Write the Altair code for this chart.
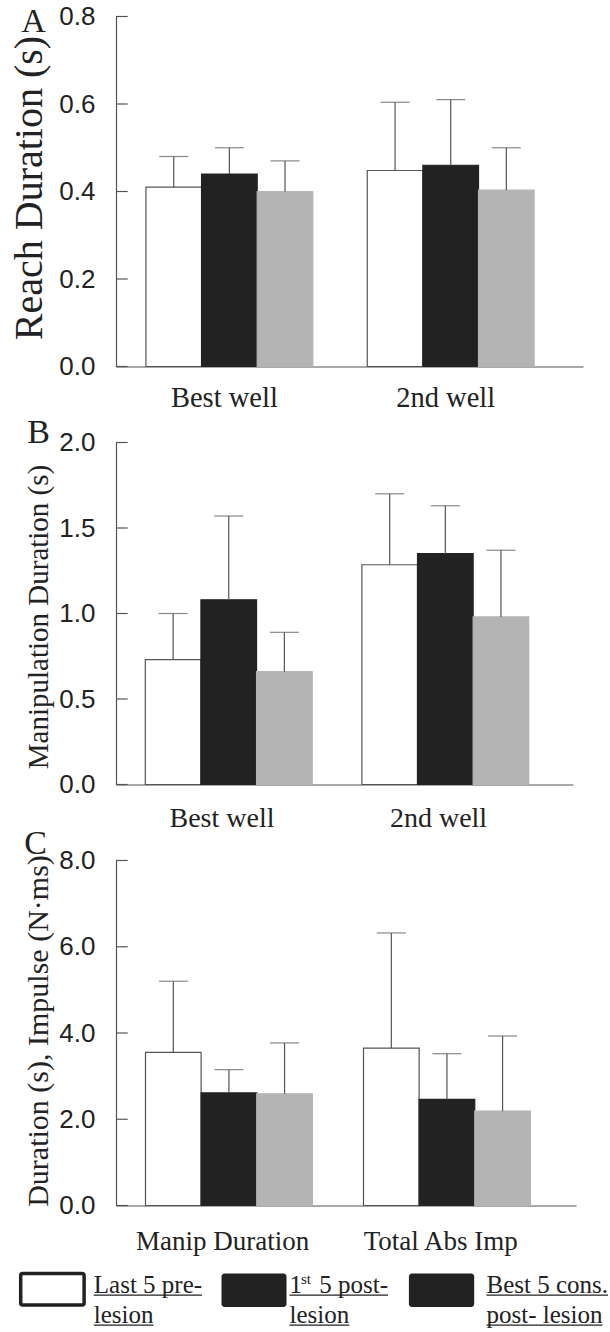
import re
import altair as alt
import pandas as pd

# ---------------- data ----------------
SERIES = ["Last 5 pre-lesion", "1st 5 post-lesion", "Best 5 cons. post-lesion"]
SERIES_FILL = ["#ffffff", "#222222", "#b4b4b4"]
SERIES_STROKE = ["#555555", "#222222", "#b4b4b4"]

# Panel A: reach duration (s)
A_GROUPS = ["Best well", "2nd well"]
A_MEAN_PRE = [0.41, 0.448]
A_MEAN_POST1 = [0.44, 0.46]
A_MEAN_BEST = [0.40, 0.403]
A_TOP_PRE = [0.48, 0.604]
A_TOP_POST1 = [0.50, 0.61]
A_TOP_BEST = [0.47, 0.50]
A_TICKS = [0.0, 0.2, 0.4, 0.6, 0.8]

# Panel B: manipulation duration (s)
B_GROUPS = ["Best well", "2nd well"]
B_MEAN_PRE = [0.73, 1.285]
B_MEAN_POST1 = [1.08, 1.35]
B_MEAN_BEST = [0.66, 0.98]
B_TOP_PRE = [1.00, 1.70]
B_TOP_POST1 = [1.57, 1.63]
B_TOP_BEST = [0.89, 1.37]
B_TICKS = [0.0, 0.5, 1.0, 1.5, 2.0]

# Panel C: duration (s), impulse (N·ms)
C_GROUPS = ["Manip Duration", "Total Abs Imp"]
C_MEAN_PRE = [3.55, 3.65]
C_MEAN_POST1 = [2.61, 2.46]
C_MEAN_BEST = [2.59, 2.19]
C_TOP_PRE = [5.20, 6.32]
C_TOP_POST1 = [3.15, 3.52]
C_TOP_BEST = [3.77, 3.93]
C_TICKS = [0.0, 2.0, 4.0, 6.0, 8.0]

LEGEND_TEXT = [("Last 5 pre-", "lesion"), ("1st 5 post-", "lesion"), ("Best 5 cons.", "post- lesion")]
LEGEND_SWATCH = ["#ffffff", "#222222", "#222222"]

# ---------------- style ----------------
INK = "#222222"
AXIS = "#555555"
SERIF = "Liberation Serif, Times New Roman, serif"
SANS = "Liberation Sans, Arial, sans-serif"

TIMES_W = {" ": 250, "-": 333, ".": 250, "1": 500, "5": 500, "B": 667, "L": 611,
           "a": 444, "c": 444, "e": 444, "i": 278, "l": 278, "n": 500, "o": 500,
           "p": 500, "r": 333, "s": 389, "t": 278}


def tw(s, size):
    return sum(TIMES_W.get(ch, 500) for ch in s) * size / 1000.0


def panel_df(groups, means, tops):
    rows = []
    for gi, g in enumerate(groups):
        for si, s in enumerate(SERIES):
            rows.append({"group": g, "series": s, "mean": means[si][gi], "top": tops[si][gi]})
    return pd.DataFrame(rows)


def panel(groups, means, tops, ymax, yticks, title, cfg):
    df = panel_df(groups, means, tops)
    w, h = cfg["w"], cfg["h"]
    xscale = alt.Scale(domain=groups, paddingInner=0.246, paddingOuter=0.178, align=0.38)
    yscale = alt.Scale(domain=[0, ymax], nice=False, zero=True)
    xoff = alt.XOffset("series:N", sort=SERIES,
                       scale=alt.Scale(domain=SERIES, paddingInner=0, paddingOuter=0))
    x_axis = alt.Axis(title=None, ticks=False, tickSize=0, labelAngle=0, labelFont=SERIF,
                      labelFontSize=cfg["xlab_size"], labelColor=INK,
                      labelPadding=cfg["xlab_pad"], labelOffset=-5, domainColor=AXIS,
                      domainWidth=1.2)
    y_axis = alt.Axis(values=yticks, format=".1f", title=title, ticks=False, tickSize=0,
                      labelPadding=21, labelFont=SANS, labelFontSize=26, labelColor=INK,
                      labelOverlap=False, domainColor=AXIS, domainWidth=1.2,
                      titleFont=SERIF, titleFontSize=cfg["title_size"], titleFontWeight="normal",
                      titleColor=INK, titleAngle=270, titleAlign="center",
                      titleBaseline="alphabetic", titleX=cfg["title_x"], titleY=cfg["title_y"])
    xenc = alt.X("group:N", scale=xscale, sort=groups, axis=x_axis)
    base = alt.Chart(df)
    bars = base.mark_bar(strokeWidth=1.2).encode(
        x=xenc,
        xOffset=xoff,
        y=alt.Y("mean:Q", scale=yscale, axis=y_axis),
        fill=alt.Fill("series:N", scale=alt.Scale(domain=SERIES, range=SERIES_FILL), legend=None),
        stroke=alt.Stroke("series:N", scale=alt.Scale(domain=SERIES, range=SERIES_STROKE), legend=None),
    )
    err = base.mark_rule(color=AXIS, strokeWidth=1.2).encode(
        x=xenc,
        xOffset=xoff,
        y=alt.Y("mean:Q", scale=yscale, axis=y_axis),
        y2="top:Q",
    )
    caps = base.mark_tick(color=AXIS, thickness=1.2, size=29).encode(
        x=xenc,
        xOffset=xoff,
        y=alt.Y("top:Q", scale=yscale, axis=y_axis),
    )
    inticks = alt.Chart(pd.DataFrame({"v": yticks})).mark_rule(color=AXIS, strokeWidth=1.2).encode(
        y=alt.Y("v:Q", scale=yscale, axis=y_axis),
        x=alt.value(0),
        x2=alt.value(11.7),
    )
    letter = alt.Chart(pd.DataFrame({"t": [cfg["letter"]]})).mark_text(
        font=SERIF, fontSize=34, color=INK, align="center", baseline="middle"
    ).encode(x=alt.value(cfg["lx"]), y=alt.value(cfg["ly"]), text="t:N")
    return alt.layer(bars, err, caps, inticks, letter).properties(width=w, height=h)


pA = panel(A_GROUPS, [A_MEAN_PRE, A_MEAN_POST1, A_MEAN_BEST], [A_TOP_PRE, A_TOP_POST1, A_TOP_BEST],
           0.8, A_TICKS, "Reach Duration (s)",
           dict(w=467, h=350, title_size=40, title_x=-74.5, title_y=171, letter="A",
                lx=-82.5, ly=5, xlab_size=28.5, xlab_pad=17))
pB = panel(B_GROUPS, [B_MEAN_PRE, B_MEAN_POST1, B_MEAN_BEST], [B_TOP_PRE, B_TOP_POST1, B_TOP_BEST],
           2.0, B_TICKS, "Manipulation Duration (s)",
           dict(w=457, h=342, title_size=29, title_x=-68.5, title_y=174, letter="B",
                lx=-77.5, ly=-10, xlab_size=28, xlab_pad=20))
pC = panel(C_GROUPS, [C_MEAN_PRE, C_MEAN_POST1, C_MEAN_BEST], [C_TOP_PRE, C_TOP_POST1, C_TOP_BEST],
           8.0, C_TICKS, "Duration (s), Impulse (N·ms)",
           dict(w=460, h=345, title_size=30, title_x=-68.5, title_y=170, letter="C",
                lx=-80.5, ly=-17, xlab_size=27, xlab_pad=23))

# ---------------- custom legend (as drawn in the original figure) ----------------
LEG_BOX_X = [(-95.3, -31.9), (105.5, 170.5), (292.9, 358.2)]
LEG_TEXT_X = [-22.2, 173.5, 370.5]
LEG_Y0 = -9.5          # legend panel starts 76 px below panel C; boxes start ~9 px above that
ROW_BASE = [LEG_Y0 + 20.7, LEG_Y0 + 50.7]
LEG_SIZE = 25

legend_layers = []
for i, (sw, (x0, x1)) in enumerate(zip(LEGEND_SWATCH, LEG_BOX_X)):
    one = pd.DataFrame({"s": [SERIES[i]]})
    if sw == "#ffffff":
        box = alt.Chart(one).mark_rect(fill="#ffffff", stroke=INK, strokeWidth=3.5, cornerRadius=2)
        box = box.encode(x=alt.value(x0), x2=alt.value(x1), y=alt.value(LEG_Y0 + 1.5),
                         y2=alt.value(LEG_Y0 + 33))
    else:
        box = alt.Chart(one).mark_rect(fill=sw, cornerRadius=3)
        box = box.encode(x=alt.value(x0), x2=alt.value(x1), y=alt.value(LEG_Y0 + 1.5),
                         y2=alt.value(LEG_Y0 + 35))
    legend_layers.append(box)


def text_piece(s, x, y, size):
    return alt.Chart(pd.DataFrame({"t": [s]})).mark_text(
        font=SERIF, fontSize=size, color=INK, align="left", baseline="alphabetic"
    ).encode(x=alt.value(x), y=alt.value(y), text="t:N")


def underline(x, w, y):
    return alt.Chart(pd.DataFrame({"w": [w]})).mark_rule(color=INK, strokeWidth=1.3).encode(
        x=alt.value(x), x2=alt.value(x + w), y=alt.value(y))


for i, (line1, line2) in enumerate(LEGEND_TEXT):
    tx = LEG_TEXT_X[i]
    m = re.match(r"^(\d+)(st|nd|rd|th)(.*)$", line1)
    if m:
        num, sup, rest = m.groups()
        x_sup = tx + tw(num, LEG_SIZE) - 1
        x_rest = x_sup + tw(sup, 15) + tw(" ", LEG_SIZE) + 2
        rest = rest.strip()
        legend_layers.append(text_piece(num, tx, ROW_BASE[0], LEG_SIZE))
        legend_layers.append(text_piece(sup, x_sup, ROW_BASE[0] - 9, 15))
        legend_layers.append(text_piece(rest, x_rest, ROW_BASE[0], LEG_SIZE))
        w1 = x_rest + tw(rest, LEG_SIZE) - tx
    else:
        legend_layers.append(text_piece(line1, tx, ROW_BASE[0], LEG_SIZE))
        w1 = tw(line1, LEG_SIZE)
    legend_layers.append(underline(tx, w1, ROW_BASE[0] + 2.5))
    legend_layers.append(text_piece(line2, tx, ROW_BASE[1], LEG_SIZE))
    legend_layers.append(underline(tx, tw(line2, LEG_SIZE), ROW_BASE[1] + 2.5))

legend = alt.layer(*legend_layers).properties(width=460, height=40)

chart = alt.vconcat(pA, pB, pC, legend, spacing=76, bounds="flush").properties(
    padding={"left": 9, "top": 3.5, "right": 0, "bottom": 0},
    background="#ffffff",
).configure_view(stroke=None).configure_axis(grid=False)

chart.save("out.html", embed_options={"renderer": "svg", "actions": False})
